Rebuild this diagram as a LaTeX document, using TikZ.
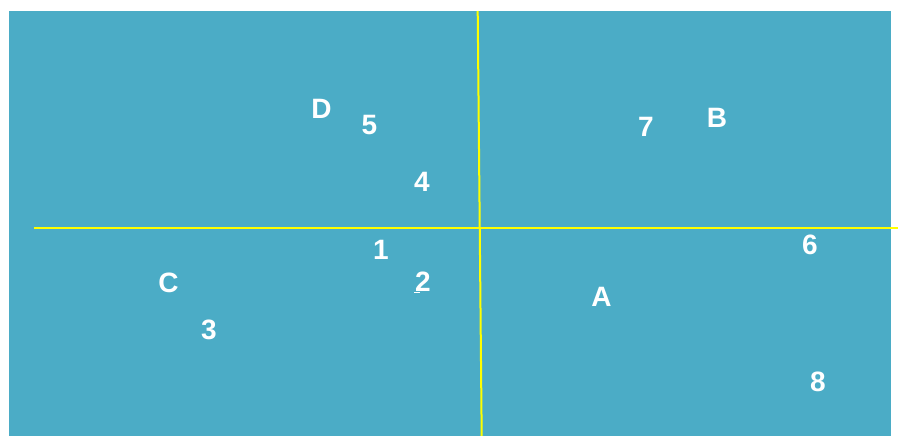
\documentclass[tikz,border=0pt]{standalone}
\usepackage{fontspec}
\setmainfont{Liberation Sans}
\definecolor{aqua}{HTML}{4BACC6}
\definecolor{axis}{HTML}{FFFF00}
\begin{document}
\begin{tikzpicture}[x=1pt,y=-1pt,
  lbl/.style={text=white,font=\fontsize{28}{28}\selectfont\bfseries,inner sep=0pt,anchor=center},
  axisline/.style={draw=axis,line width=2pt}]
\useasboundingbox (0,0) rectangle (898,436);
\fill[aqua] (9,11) rectangle (891,436);
\coordinate (vt) at (477.7,11);
\coordinate (vb) at (481.7,436);
\coordinate (hl) at (34,228);
\coordinate (hr) at (898,228);
\draw[axisline] (hl) -- (hr);
\draw[axisline] (vt) -- (vb);
\node[lbl] (D) at (321.5,108.5) {D};
\node[lbl] (n5) at (369.5,125) {5};
\node[lbl] (n4) at (422,181.5) {4};
\node[lbl] (n7) at (646,126.5) {7};
\node[lbl] (B) at (717,117.5) {B};
\node[lbl] (n1) at (381,250) {1};
\node[lbl] (n2) at (423,281.5) {2};
\node[lbl] (C) at (168.5,282.5) {C};
\node[lbl] (n3) at (209,330) {3};
\node[lbl] (A) at (601.5,297) {A};
\node[lbl] (n6) at (810,245) {6};
\node[lbl] (n8) at (818,382) {8};
\coordinate (u1) at (414,292.5);
\coordinate (u2) at (420,292.5);
\draw[white,line width=1pt] (u1) -- (u2);
\end{tikzpicture}
\end{document}
